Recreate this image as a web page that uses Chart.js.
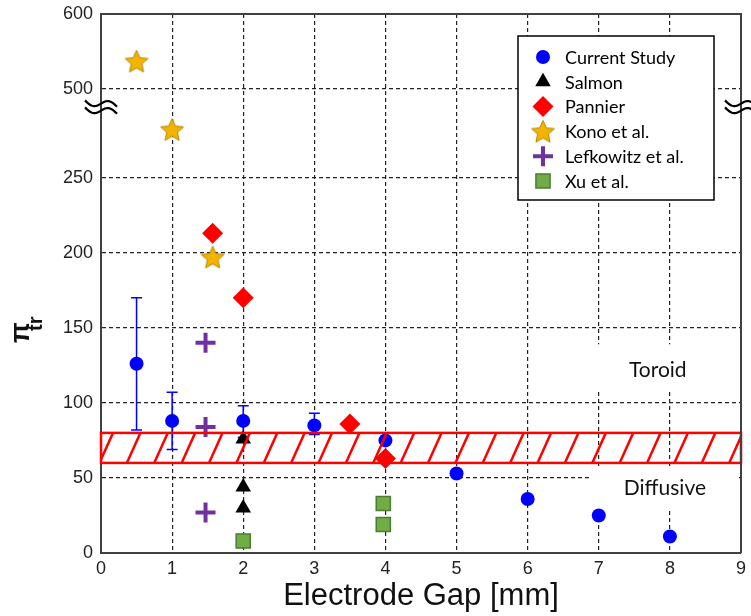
<!DOCTYPE html>
<html lang="en">
<head>
<meta charset="UTF-8">
<title>Transition number vs electrode gap</title>
<script src="https://cdn.jsdelivr.net/npm/chart.js"></script>
<style>
  html, body { margin: 0; padding: 0; background: #fff; overflow: hidden; }
  canvas { display: block; }
</style>
</head>
<body>
<canvas id="gapChart" width="751" height="616"></canvas>
<script>
// values
const gapCurrent = [0.5, 1, 2, 3, 4, 5, 6, 7, 8];
const piCurrent  = [126, 88, 88, 85, 75, 53, 36, 25, 11];
const errHigh    = [170, 107, 98, 93, null, null, null, null, null];
const errLow     = [82, 69, 77, 79, null, null, null, null, null];

const gapSalmon = [2, 2, 2];
const piSalmon  = [76, 44, 30];

const gapPannier = [1.57, 2, 3.5, 4];
const piPannier  = [213, 170, 86, 63];

const gapKono = [0.5, 1, 1.57];
const piKono  = [537, 282, 197];

const gapLefkowitz = [1.47, 1.47, 1.47];
const piLefkowitz  = [140, 84, 27];

const gapXu = [2, 3.97, 3.97];
const piXu  = [8, 33, 19];

const seriesNames = ['Current Study', 'Salmon', 'Pannier', 'Kono et al.', 'Lefkowitz et al.', 'Xu et al.'];
const yTickValues = [0, 50, 100, 150, 200, 250, 500, 600];
const bandLow = 60, bandHigh = 80;
const regionLabels = ['Toroid', 'Diffusive'];

// broken axis: up to 300 kept as is, 500-600 squeezed to half above the break
function toAxis(v) { return v <= 300 ? v : 309 + (v - 500) * 0.5; }
function pts(xs, ys) { return xs.map((x, i) => ({ x: x, y: toAxis(ys[i]) })); }

function makeStar(size, fill, stroke) {
    const c = document.createElement('canvas');
    c.width = c.height = size;
    const g = c.getContext('2d');
    const r = size / 2 - 1, ri = r * 0.47, cx = size / 2, cy = size / 2 + 1;
    g.beginPath();
    for (let i = 0; i < 10; i++) {
        const a = -Math.PI / 2 + i * Math.PI / 5;
        const rr = i % 2 ? ri : r;
        g.lineTo(cx + rr * Math.cos(a), cy + rr * Math.sin(a));
    }
    g.closePath();
    g.fillStyle = fill; g.fill();
    g.strokeStyle = stroke; g.lineWidth = 1; g.stroke();
    return c;
}
const starImg = makeStar(26, '#f2b400', '#b88400');

function squiggle(ctx, cx, cy) {
    ctx.save();
    ctx.strokeStyle = '#000';
    ctx.lineWidth = 2.2;
    [-3.5, 3.5].forEach(dy => {
        ctx.beginPath();
        for (let t = -16; t <= 16; t++) {
            const px = cx + t;
            const py = cy + dy + t * 0.2 - 4 * Math.sin(t / 16 * Math.PI);
            if (t === -16) ctx.moveTo(px, py); else ctx.lineTo(px, py);
        }
        ctx.stroke();
    });
    ctx.restore();
}

const extras = {
    id: 'extras',
    beforeDatasetsDraw(chart) {
        const { ctx, scales: { x, y } } = chart;
        // white boxes behind the region labels
        ctx.save();
        ctx.fillStyle = '#fff';
        const bx1 = x.getPixelForValue(6.88), bx2 = x.getPixelForValue(8.97);
        ctx.fillRect(bx1, y.getPixelForValue(139), bx2 - bx1, y.getPixelForValue(108) - y.getPixelForValue(139));
        ctx.fillRect(bx1, y.getPixelForValue(57.5), bx2 - bx1, y.getPixelForValue(29) - y.getPixelForValue(57.5));
        ctx.fillStyle = '#111';
        ctx.font = '21px Lato';
        ctx.textAlign = 'center';
        ctx.textBaseline = 'middle';
        ctx.fillText(regionLabels[0], x.getPixelForValue(7.83), y.getPixelForValue(122));
        ctx.fillText(regionLabels[1], x.getPixelForValue(7.93), y.getPixelForValue(43));
        ctx.restore();

        // error bars
        ctx.save();
        ctx.strokeStyle = '#0000ff';
        ctx.lineWidth = 1.5;
        gapCurrent.forEach((g, i) => {
            if (errHigh[i] == null) return;
            const px = x.getPixelForValue(g);
            const top = y.getPixelForValue(toAxis(errHigh[i]));
            const bot = y.getPixelForValue(toAxis(errLow[i]));
            ctx.beginPath();
            ctx.moveTo(px, top); ctx.lineTo(px, bot);
            ctx.moveTo(px - 5.5, top); ctx.lineTo(px + 5.5, top);
            ctx.moveTo(px - 5.5, bot); ctx.lineTo(px + 5.5, bot);
            ctx.stroke();
        });
        ctx.restore();
    },
    afterDatasetsDraw(chart) {
        const { ctx, chartArea: area, scales: { x, y } } = chart;

        // hatched transition band
        const left = x.getPixelForValue(0), right = x.getPixelForValue(9);
        const top = y.getPixelForValue(bandHigh), bot = y.getPixelForValue(bandLow);
        ctx.save();
        ctx.beginPath();
        ctx.rect(left, top, right - left, bot - top);
        ctx.clip();
        ctx.strokeStyle = '#ff0000';
        ctx.lineWidth = 2.5;
        const step = x.getPixelForValue(0.385) - left;
        const slant = (bot - top) * 0.45;
        ctx.beginPath();
        for (let xt = left + 12 - step; xt < right + slant + step; xt += step) {
            ctx.moveTo(xt, top);
            ctx.lineTo(xt - slant, bot);
        }
        ctx.stroke();
        ctx.restore();
        ctx.save();
        ctx.strokeStyle = '#ff0000';
        ctx.lineWidth = 2.5;
        ctx.strokeRect(left, top, right - left, bot - top);
        ctx.restore();

        // top and right frame
        ctx.save();
        ctx.strokeStyle = '#404040';
        ctx.lineWidth = 2;
        ctx.beginPath();
        ctx.moveTo(area.left, area.top); ctx.lineTo(area.right, area.top); ctx.lineTo(area.right, area.bottom);
        ctx.stroke();
        ctx.restore();

        // axis break marks
        const yb = y.getPixelForValue(297);
        squiggle(ctx, area.left, yb);
        squiggle(ctx, area.right, yb);

        // legend
        const lx = 518, ly = 36, lw = 196, lh = 164;
        ctx.save();
        ctx.fillStyle = '#fff';
        ctx.fillRect(lx, ly, lw, lh);
        ctx.strokeStyle = '#000';
        ctx.lineWidth = 1.5;
        ctx.strokeRect(lx, ly, lw, lh);
        ctx.font = '18px Lato';
        ctx.textBaseline = 'middle';
        ctx.textAlign = 'left';
        chart.data.datasets.forEach((ds, i) => {
            const cy = ly + 21 + i * 24.8;
            ctx.save();
            ctx.fillStyle = ds.backgroundColor;
            ctx.strokeStyle = ds.borderColor;
            ctx.lineWidth = ds.borderWidth;
            if (Chart.helpers && Chart.helpers.drawPoint) {
                Chart.helpers.drawPoint(ctx, {
                    pointStyle: ds.pointStyle, radius: ds.pointRadius,
                    rotation: 0, borderWidth: ds.borderWidth
                }, lx + 25, cy);
            }
            ctx.restore();
            ctx.fillStyle = '#000';
            ctx.fillText(ds.label, lx + 47, cy + 1);
        });
        ctx.restore();

        // y title: pi with subscript tr
        ctx.save();
        ctx.translate(29, 343);
        ctx.rotate(-Math.PI / 2);
        ctx.fillStyle = '#111';
        ctx.textAlign = 'left';
        ctx.textBaseline = 'alphabetic';
        ctx.font = 'bold 27px "Liberation Sans"';
        ctx.fillText('\u03c0', 0, 0);
        ctx.font = 'bold 20px "Liberation Sans"';
        ctx.fillText('tr', 12, 13);
        ctx.restore();
    }
};

const ctx = document.getElementById('gapChart').getContext('2d');
new Chart(ctx, {
    type: 'scatter',
    data: {
        datasets: [
            { label: seriesNames[0], data: pts(gapCurrent, piCurrent), pointStyle: 'circle', pointRadius: 7,
              backgroundColor: '#0000ff', borderColor: '#0000ff', borderWidth: 0 },
            { label: seriesNames[1], data: pts(gapSalmon, piSalmon), pointStyle: 'triangle', pointRadius: 9,
              backgroundColor: '#000000', borderColor: '#000000', borderWidth: 0 },
            { label: seriesNames[2], data: pts(gapPannier, piPannier), pointStyle: 'rectRot', pointRadius: 10.5,
              backgroundColor: '#ff0000', borderColor: '#ff0000', borderWidth: 0 },
            { label: seriesNames[3], data: pts(gapKono, piKono), pointStyle: starImg, pointRadius: 12,
              backgroundColor: '#f2b400', borderColor: '#b88400', borderWidth: 1 },
            { label: seriesNames[4], data: pts(gapLefkowitz, piLefkowitz), pointStyle: 'cross', pointRadius: 10,
              backgroundColor: '#7030a0', borderColor: '#7030a0', borderWidth: 4 },
            { label: seriesNames[5], data: pts(gapXu, piXu), pointStyle: 'rect', pointRadius: 10,
              backgroundColor: '#70ad47', borderColor: '#4e7b30', borderWidth: 1.5 }
        ]
    },
    options: {
        responsive: false,
        animation: false,
        events: [],
        layout: { autoPadding: false, padding: { top: 14, right: 10, left: 0, bottom: 0 } },
        plugins: {
            legend: { display: false },
            tooltip: { enabled: false }
        },
        scales: {
            x: {
                type: 'linear',
                min: 0,
                max: 9,
                ticks: {
                    stepSize: 1,
                    color: '#222',
                    padding: 5,
                    maxRotation: 0,
                    font: { family: 'Liberation Sans', size: 18 }
                },
                grid: {
                    drawTicks: false,
                    lineWidth: 1.2,
                    color: c => (c.tick && (c.tick.value === 0 || c.tick.value === 9)) ? 'rgba(0,0,0,0)' : '#222'
                },
                border: { color: '#404040', width: 2, dash: [4, 3] },
                title: {
                    display: true,
                    text: 'Electrode Gap [mm]',
                    color: '#111',
                    font: { family: 'Liberation Sans', size: 31, lineHeight: 1.2 },
                    padding: { top: 0, bottom: 1 }
                },
                afterFit: s => { s.height = 63; s.paddingLeft = 0; s.paddingRight = 0; }
            },
            y: {
                type: 'linear',
                min: 0,
                max: 359,
                afterBuildTicks: s => { s.ticks = yTickValues.map(v => ({ value: toAxis(v) })); },
                ticks: {
                    autoSkip: false,
                    color: '#222',
                    padding: 8,
                    font: { family: 'Liberation Sans', size: 18 },
                    callback: (val, i) => yTickValues[i]
                },
                grid: {
                    drawTicks: false,
                    lineWidth: 1.2,
                    color: c => (c.tick && (c.tick.value === 0 || c.tick.value >= 359)) ? 'rgba(0,0,0,0)' : '#222'
                },
                border: { color: '#404040', width: 2, dash: [4, 3] },
                afterFit: s => { s.width = 101; s.paddingTop = 0; s.paddingBottom = 0; }
            }
        }
    },
    plugins: [extras]
});
</script>
</body>
</html>
